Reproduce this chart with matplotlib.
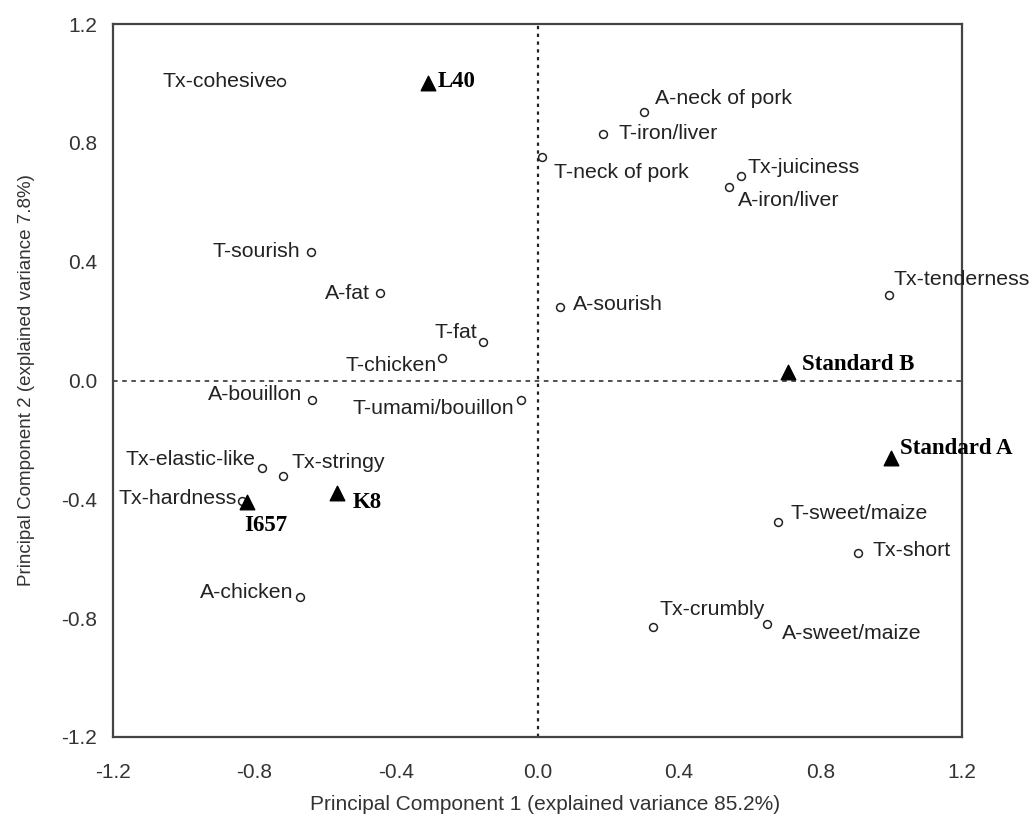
import matplotlib
matplotlib.use("Agg")
import matplotlib.pyplot as plt

# Attribute loadings (open circles)
attr_names = ["Tx-cohesive", "T-sourish", "A-fat", "T-fat", "T-chicken", "A-bouillon",
              "T-umami/bouillon", "Tx-elastic-like", "Tx-stringy", "Tx-hardness", "A-chicken",
              "T-neck of pork", "A-neck of pork", "T-iron/liver", "Tx-juiciness", "A-iron/liver",
              "A-sourish", "Tx-tenderness", "T-sweet/maize", "Tx-short", "Tx-crumbly", "A-sweet/maize"]
attr_pc1 = [-0.725, -0.64, -0.445, -0.154, -0.27, -0.637,
            -0.047, -0.78, -0.72, -0.835, -0.67,
            0.012, 0.30, 0.186, 0.575, 0.54,
            0.064, 0.994, 0.68, 0.905, 0.326, 0.648]
attr_pc2 = [1.005, 0.432, 0.295, 0.13, 0.076, -0.066,
            -0.066, -0.295, -0.32, -0.405, -0.73,
            0.752, 0.904, 0.83, 0.69, 0.65,
            0.247, 0.288, -0.477, -0.58, -0.83, -0.82]

# Samples (filled triangles)
sample_names = ["L40", "I657", "K8", "Standard B", "Standard A"]
sample_pc1 = [-0.31, -0.82, -0.567, 0.709, 0.999]
sample_pc2 = [1.00, -0.41, -0.38, 0.029, -0.26]

xticks = [-1.2, -0.8, -0.4, 0.0, 0.4, 0.8, 1.2]
yticks = [-1.2, -0.8, -0.4, 0.0, 0.4, 0.8, 1.2]

# label placement (offset in points, horizontal alignment)
attr_lab = {
    "Tx-cohesive": (-3, 0.5, "right"),
    "T-sourish": (-8, 0.5, "right"),
    "A-fat": (-7, -0.5, "right"),
    "T-fat": (-4.5, 6.5, "right"),
    "T-chicken": (-3.5, -5.5, "right"),
    "A-bouillon": (-7, 4, "right"),
    "T-umami/bouillon": (-4.5, -6, "right"),
    "Tx-elastic-like": (-4.5, 6.5, "right"),
    "Tx-stringy": (6.5, 9.5, "left"),
    "Tx-hardness": (-3.5, 2, "right"),
    "A-chicken": (-5, 3.5, "right"),
    "T-neck of pork": (9, -11, "left"),
    "A-neck of pork": (8, 10, "left"),
    "T-iron/liver": (11, 0, "left"),
    "Tx-juiciness": (5, 6, "left"),
    "A-iron/liver": (7, -9.5, "left"),
    "A-sourish": (9.5, 2, "left"),
    "Tx-tenderness": (3, 11, "left"),
    "T-sweet/maize": (9, 6.5, "left"),
    "Tx-short": (11, 2, "left"),
    "Tx-crumbly": (4.5, 13, "left"),
    "A-sweet/maize": (11, -7, "left"),
}
sample_lab = {
    "L40": (7, 1.5, "left"),
    "I657": (-2, -16.5, "left"),
    "K8": (11, -6.5, "left"),
    "Standard B": (10, 5, "left"),
    "Standard A": (6.5, 7, "left"),
}

plt.rcParams['font.family'] = ['Liberation Sans', 'DejaVu Sans']
fig = plt.figure(figsize=(10.3, 8.17), dpi=100)
ax = fig.add_axes([113/1030, 1 - 737/817, (962 - 113)/1030, (737 - 24)/817])

ax.axhline(0, color="#222222", ls=(0, (3, 3)), lw=1.1, zorder=1)
ax.axvline(0, color="#222222", ls=(0, (1.5, 2)), lw=1.6, zorder=1)

ax.scatter(attr_pc1, attr_pc2, s=32, facecolors="white", edgecolors="#222222",
           linewidths=1.1, zorder=3)
ax.scatter(sample_pc1, sample_pc2, s=110, marker="^", color="black", zorder=4)

for n, x, y in zip(attr_names, attr_pc1, attr_pc2):
    dx, dy, ha = attr_lab[n]
    ax.annotate(n, (x, y), xytext=(dx, dy), textcoords="offset points",
                ha=ha, va="center", fontsize=15.3, color="#222222", zorder=5,
                annotation_clip=False)
for n, x, y in zip(sample_names, sample_pc1, sample_pc2):
    dx, dy, ha = sample_lab[n]
    ax.annotate(n, (x, y), xytext=(dx, dy), textcoords="offset points",
                ha=ha, va="center", fontsize=16.5, fontweight="bold", color="black",
                family=["Liberation Serif", "DejaVu Serif"], zorder=5,
                annotation_clip=False)

ax.set_xlim(-1.2, 1.2)
ax.set_ylim(-1.2, 1.2)
ax.set_xticks(xticks)
ax.set_yticks(yticks)
ax.set_xticklabels([f"{v:.1f}" for v in xticks])
ax.set_yticklabels([f"{v:.1f}" for v in yticks])
ax.tick_params(length=0, labelsize=15, colors="#333333")
ax.tick_params(axis="x", pad=19)
ax.tick_params(axis="y", pad=11.5)

for s in ax.spines.values():
    s.set_color("#444444")
    s.set_linewidth(1.6)

ax.set_xlabel("Principal Component 1 (explained variance 85.2%)", fontsize=15,
              color="#333333")
ax.xaxis.set_label_coords(0.509, -0.082)
ax.set_ylabel("Principal Component 2 (explained variance 7.8%)", fontsize=13.5,
              color="#333333", labelpad=19)

fig.savefig("out.png", dpi=100, facecolor="white")
